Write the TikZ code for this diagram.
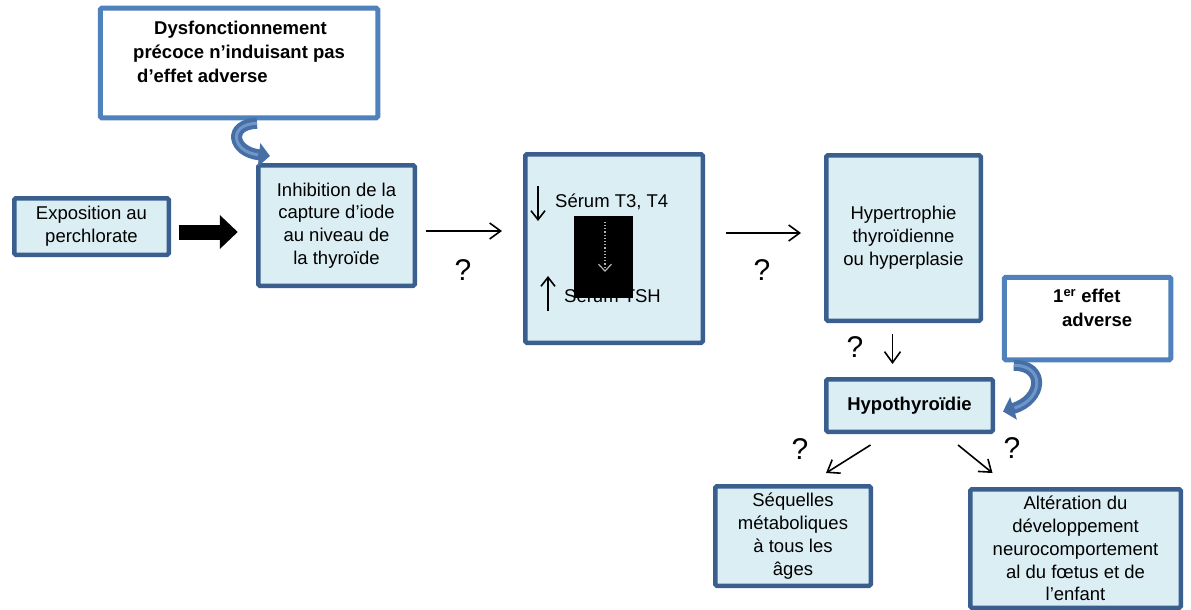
\documentclass[tikz,border=0pt]{standalone}
\usepackage{fontspec}
\setmainfont{Liberation Sans}
\usetikzlibrary{arrows.meta,calc}
\definecolor{fillc}{HTML}{DBEEF4}
\definecolor{darkb}{HTML}{3A5F8E}
\definecolor{lightb}{HTML}{4F81BD}
\definecolor{curvc}{HTML}{466FA6}
\definecolor{curvl}{HTML}{6F96C8}
\begin{document}
\begin{tikzpicture}[x=1pt,y=-1pt,
  txt/.style={font=\fontsize{18.5}{22.8}\selectfont},
  box/.style={draw=darkb, fill=fillc, line width=4.5pt, rounded corners=1.5pt, align=center, inner sep=0pt, txt},
  wbox/.style={draw=lightb, fill=white, line width=5pt, rounded corners=1.5pt, inner sep=0pt},
  btxt/.style={font=\fontsize{18.5}{24}\selectfont\bfseries, align=left, inner sep=0pt},
  arr/.style={line width=1.6pt, -{Straight Barb[length=11pt,width=16pt]}},
  qm/.style={font=\fontsize{30}{32}\selectfont, inner sep=0pt},
  curv/.style={draw=curvc, line width=11pt, -{Triangle[length=11pt,width=23pt]}},
  curvhl/.style={draw=curvl, line width=3pt, shorten >=12pt},
]
\useasboundingbox (0,0) rectangle (1191,610);

% boxes
\node[box, minimum width=154.5pt, minimum height=56.5pt] (expo) at (91.5,226.5) {Exposition au\\perchlorate};
\node[box, minimum width=156.5pt, minimum height=120.5pt] (inhib) at (336.5,225.5) {Inhibition de la\\capture d’iode\\au niveau de\\la thyroïde};
\node[box, minimum width=177.5pt, minimum height=188.5pt] (serum) at (614,248.5) {};
\node[box, minimum width=154.5pt, minimum height=165.5pt] (hyper) at (903.5,238) {Hypertrophie\\thyroïdienne\\ou hyperplasie};
\node[box, minimum width=166.5pt, minimum height=52.5pt, font=\fontsize{18.5}{22.8}\selectfont\bfseries] (hypo) at (909.5,405.5) {Hypothyroïdie};
\node[box, minimum width=155.5pt, minimum height=99.5pt] (seq) at (793,536) {Séquelles\\métaboliques\\à tous les\\âges};
\node[box, minimum width=210.5pt, minimum height=118.5pt] (alt) at (1075.5,548.5) {Altération du\\développement\\neurocomportement\\al du fœtus et de\\l’enfant};

\node[wbox, minimum width=277.5pt, minimum height=109.5pt] (dysf) at (239,63) {};
\node[btxt, anchor=north west] (dysft) at (133,21) {\hspace{21pt}Dysfonctionnement\\précoce n’induisant pas\\\hspace{4pt}d’effet adverse};
\node[wbox, minimum width=166.5pt, minimum height=82.5pt] (effet) at (1087.5,318.5) {};
\node[btxt, anchor=north west] (effett) at (1053,289) {1\textsuperscript{er} effet\\\hspace{9pt}adverse};

% contents of the serum box
\node[txt, anchor=west, inner sep=0pt] (t3) at (555,202) {Sérum T3, T4};
\node[txt, anchor=west, inner sep=0pt] (tsh) at (564,296) {Sérum TSH};
\draw[line width=1.6pt, -{Straight Barb[length=9pt,width=14pt]}] (538,186) -- (538,221);
\draw[line width=1.6pt, -{Straight Barb[length=9pt,width=14pt]}] (548,311) -- (548,276);
\node[fill=black, minimum width=59pt, minimum height=82pt, inner sep=0pt] (blk) at (603.5,257) {};
\draw[gray!60, dotted, line width=1.2pt, -{Straight Barb[length=7pt,width=13pt]}] ($(blk.north)+(1.5,6)$) -- ($(blk.center)+(1.5,15)$);

% thick arrow
\draw[black, line width=15pt, -{Triangle[length=18pt,width=33pt]}] ($(expo.east)+(8,5.5)$) -- ($(inhib.west)+(-18.25,6.5)$);

% thin arrows
\draw[arr] ($(inhib.east)+(9,5.5)$) -- ($(serum.west |- inhib.east)+(-21,5.5)$);
\draw[arr] ($(serum.east |- hyper.west)+(21,-5)$) -- ($(hyper.west)+(-23,-5)$);
\draw[arr] ($(hyper.south)+(-11,11)$) -- ($(hypo.north -| hyper.south)+(-11,-13)$);
\draw[arr] ($(hypo.south)+(-39,11)$) -- ($(seq.north)+(33,-11)$);
\draw[arr] ($(hypo.south)+(48.5,11)$) -- ($(alt.north)+(-83,-14)$);

% question marks
\node[qm] (q1) at (463,270) {?};
\node[qm] (q2) at (762,270) {?};
\node[qm] (q3) at (855,347) {?};
\node[qm] (q4) at (800,449) {?};
\node[qm] (q5) at (1012,448) {?};

% curved arrows
\coordinate (c1s) at ($(dysf.south)+(18,3)$);
\coordinate (c1e) at ($(inhib.north west)+(14,-7)$);
\draw[curv] (c1s) .. controls +(-30,1) and +(-38,-4) .. (c1e);
\draw[curvhl] (c1s) .. controls +(-30,1) and +(-38,-4) .. (c1e);
\coordinate (c2s) at ($(effet.south west)+(12,3)$);
\coordinate (c2e) at ($(hypo.east)+(8,6)$);
\draw[curv] (c2s) .. controls +(32,0) and +(40,-12) .. (c2e);
\draw[curvhl] (c2s) .. controls +(32,0) and +(40,-12) .. (c2e);
\end{tikzpicture}
\end{document}
